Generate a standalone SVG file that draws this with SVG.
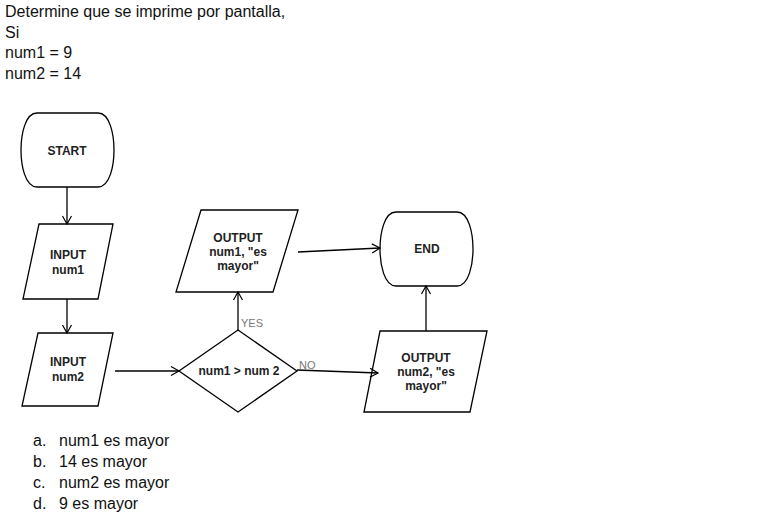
<svg xmlns="http://www.w3.org/2000/svg" width="774" height="515" viewBox="0 0 774 515">
<defs>
<style>
.q{font-family:"Liberation Sans",Arial,sans-serif;font-size:16px;fill:#111}
.n{font-family:"Liberation Sans",Arial,sans-serif;font-size:12px;font-weight:bold;fill:#222;text-anchor:middle}
.s{fill:#fff;stroke:#000;stroke-width:1.3}
.c{fill:none;stroke:#000;stroke-width:1.3}
.l{font-family:"Liberation Sans",Arial,sans-serif;font-size:11px;fill:#777}
</style>
<marker id="ar" markerWidth="12" markerHeight="12" refX="10" refY="6" orient="auto" markerUnits="userSpaceOnUse">
<path d="M2,1.5 L10,6 L2,10.5" fill="none" stroke="#000" stroke-width="1.2"/>
</marker>
</defs>
<rect width="774" height="515" fill="#fff"/>
<g id="question">
<text class="q" x="5" y="17">Determine que se imprime por pantalla,</text>
<text class="q" x="5" y="38">Si</text>
<text class="q" x="5" y="58">num1 = 9</text>
<text class="q" x="5" y="79">num2 = 14</text>
</g>
<g id="start">
<path class="s" d="M37 113 H98 C110 113 114 135 114 150 C114 165 110 187 98 187 H37 C25 187 21 165 21 150 C21 135 25 113 37 113 Z"/>
<text class="n" x="67" y="155">START</text>
</g>
<g id="input1">
<path class="s" d="M39 224 H113 L98 299 H23 Z"/>
<text class="n" x="68" y="259">INPUT</text>
<text class="n" x="68" y="274">num1</text>
</g>
<g id="input2">
<path class="s" d="M38 333 H113 L98 406 H22 Z"/>
<text class="n" x="68" y="366">INPUT</text>
<text class="n" x="68" y="381">num2</text>
</g>
<g id="decision">
<path class="s" d="M238 330 L297 371 L238 412 L179 371 Z"/>
<text class="n" x="239" y="375">num1 &gt; num 2</text>
</g>
<g id="output1">
<path class="s" d="M201 210 H298 L273 292 H176 Z"/>
<text class="n" x="238" y="242">OUTPUT</text>
<text class="n" x="238" y="256">num1, "es</text>
<text class="n" x="238" y="270">mayor"</text>
</g>
<g id="end">
<path class="s" d="M396 212 H457 C469 212 473 234 473 249 C473 264 469 286 457 286 H396 C384 286 380 264 380 249 C380 234 384 212 396 212 Z"/>
<text class="n" x="427" y="253">END</text>
</g>
<g id="output2">
<path class="s" d="M380 331 H487 L470 412 H364 Z"/>
<text class="n" x="426" y="362">OUTPUT</text>
<text class="n" x="426" y="376">num2, "es</text>
<text class="n" x="426" y="390">mayor"</text>
</g>
<g id="connectors">
<line class="c" x1="67" y1="187" x2="67" y2="224" marker-end="url(#ar)"/>
<line class="c" x1="67" y1="299" x2="67" y2="333" marker-end="url(#ar)"/>
<line class="c" x1="115" y1="371" x2="179" y2="371" marker-end="url(#ar)"/>
<line class="c" x1="238" y1="330" x2="238" y2="292" marker-end="url(#ar)"/>
<line class="c" x1="298" y1="252" x2="380" y2="248" marker-end="url(#ar)"/>
<line class="c" x1="297" y1="370" x2="378" y2="373" marker-end="url(#ar)"/>
<line class="c" x1="426" y1="331" x2="426" y2="286" marker-end="url(#ar)"/>
<text class="l" x="241" y="327">YES</text>
<text class="l" x="299" y="369">NO</text>
</g>
<g id="options">
<text class="q" x="33" y="446">a.</text><text class="q" x="59" y="446">num1 es mayor</text>
<text class="q" x="33" y="467">b.</text><text class="q" x="59" y="467">14 es mayor</text>
<text class="q" x="33" y="488">c.</text><text class="q" x="59" y="488">num2 es mayor</text>
<text class="q" x="33" y="509">d.</text><text class="q" x="59" y="509">9 es mayor</text>
</g>
</svg>
